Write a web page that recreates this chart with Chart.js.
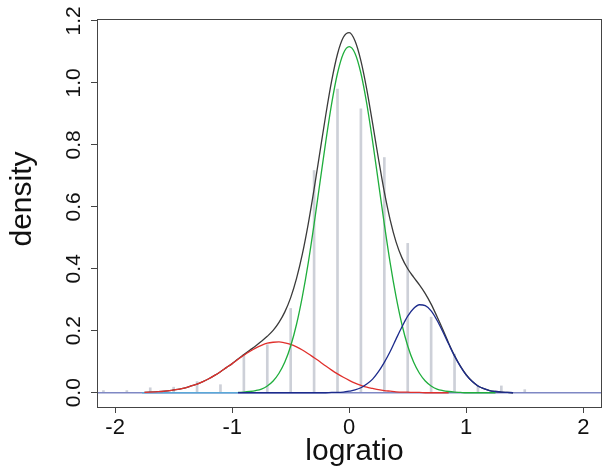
<!DOCTYPE html>
<html>
<head>
<meta charset="utf-8">
<script src="https://cdn.jsdelivr.net/npm/chart.js@4.4.1/dist/chart.umd.min.js"></script>
<style>
  html, body { margin: 0; padding: 0; background: #fff; }
  #wrap { width: 603px; height: 470px; }
</style>
</head>
<body>
<div id="wrap"><canvas id="chart" width="603" height="470"></canvas></div>
<script>
/* =======================
   DATA
======================= */
// grid of logratio values the curves were read at
const xGrid = [-1.80,-1.75,-1.70,-1.65,-1.60,-1.55,-1.50,-1.45,-1.40,-1.35,-1.30,-1.25,-1.20,-1.15,-1.10,-1.05,-1.00,
  -0.95,-0.90,-0.85,-0.80,-0.75,-0.70,-0.65,-0.60,-0.55,-0.50,-0.45,-0.40,-0.35,-0.30,-0.25,-0.20,-0.15,-0.10,-0.05,
  0.00,0.05,0.10,0.15,0.20,0.25,0.30,0.35,0.40,0.45,0.50,0.55,0.60,0.65,0.70,0.75,0.80,0.85,0.90,0.95,
  1.00,1.05,1.10,1.15,1.20,1.25,1.30,1.35,1.40];

// left component (red)
const redCurve = [null,0.001,0.002,0.003,0.004,0.006,0.009,0.012,0.016,0.022,0.028,0.036,0.045,0.056,0.068,0.081,0.094,
  0.108,0.121,0.133,0.144,0.153,0.160,0.163,0.164,0.161,0.156,0.148,0.138,0.126,0.113,0.100,0.086,0.073,0.061,0.050,
  0.040,0.031,0.024,0.018,0.014,0.010,0.007,0.005,0.003,0.002,0.002,0.001,0.001,0,0,0,0,0,null,null,
  null,null,null,null,null,null,null,null,null];

// middle component (green)
const greenCurve = [null,null,null,null,null,null,null,null,null,null,null,null,null,null,null,null,null,
  0.001,0.002,0.004,0.007,0.012,0.022,0.038,0.063,0.099,0.151,0.221,0.311,0.419,0.544,0.678,0.811,0.933,1.031,1.095,
  1.117,1.095,1.031,0.933,0.811,0.678,0.544,0.419,0.311,0.221,0.151,0.099,0.063,0.038,0.022,0.012,0.007,0.004,0.002,0.001,
  0,0,0,0,0,0,null,null,null];

// right component (blue)
const blueCurve = [null,null,null,null,null,null,null,null,null,null,null,null,null,null,null,null,null,
  0,0,0,0,0,0,0,0,0,0,0,0,0,0,0,0,0.001,0.001,0.002,
  0.005,0.009,0.016,0.028,0.044,0.068,0.098,0.133,0.173,0.212,0.247,0.272,0.284,0.281,0.264,0.234,0.197,0.157,0.118,0.085,
  0.057,0.037,0.022,0.013,0.007,0.004,0.002,0.001,0];

// overall density (black)
const totalCurve = [null,0.001,0.002,0.003,0.004,0.006,0.009,0.012,0.016,0.022,0.028,0.036,0.045,0.056,0.068,0.081,0.094,
  0.109,0.123,0.137,0.151,0.166,0.182,0.201,0.227,0.261,0.307,0.369,0.448,0.545,0.657,0.777,0.897,1.006,1.093,1.147,
  1.162,1.135,1.071,0.979,0.869,0.755,0.648,0.558,0.487,0.436,0.400,0.373,0.348,0.320,0.286,0.246,0.204,0.160,0.120,0.086,
  0.058,0.037,0.022,0.013,0.007,0.004,0.002,0.001,0];

// histogram spikes
const spikeX = [-2.1,-1.9,-1.7,-1.5,-1.3,-1.1,-0.9,-0.7,-0.5,-0.3,-0.1,0.1,0.3,0.5,0.7,0.9,1.1,1.3,1.5];
const spikeH = [0.007,0.007,0.016,0.018,0.036,0.026,0.120,0.155,0.272,0.717,0.980,0.916,0.759,0.482,0.244,0.125,0.023,0.022,0.010];

// zero lines
const baseX = [-2.155, 2.16];
const baseY = [0, 0];
const lightX = [-1.77, -0.95];
const lightY = [0, 0];

// axes
const xTicks = [-2, -1, 0, 1, 2];
const yTicks = [0, 0.2, 0.4, 0.6, 0.8, 1.0, 1.2];
const xRange = [-2.155, 2.16];
const yRange = [-0.046, 1.206];

const FONT = "'Liberation Sans', Arial, Helvetica, sans-serif";

function pts(xs, ys){
  return xs.map((x, i) => ({x: x, y: ys[i]}));
}

function curve(label, ys, color, order){
  return {
    type: 'line', label, data: pts(xGrid, ys),
    borderColor: color, borderWidth: 1.3, pointRadius: 0,
    cubicInterpolationMode: 'monotone', spanGaps: false, order
  };
}

// box round the plot + axis titles
const framePlugin = {
  id: 'frame',
  afterDraw(chart){
    const {ctx, chartArea: a} = chart;
    ctx.save();
    ctx.strokeStyle = '#444';
    ctx.lineWidth = 1;
    ctx.strokeRect(a.left + 0.5, a.top + 0.5, a.right - a.left - 1, a.bottom - a.top);
    ctx.fillStyle = '#111';
    ctx.font = "30px " + FONT;
    ctx.textAlign = 'center';
    ctx.textBaseline = 'middle';
    ctx.fillText('logratio', (a.left + a.right) / 2 + 5, 452);
    ctx.translate(23, 199);
    ctx.rotate(-Math.PI / 2);
    ctx.fillText('density', 0, 0);
    ctx.restore();
  }
};

new Chart(document.getElementById('chart'), {
  type: 'line',
  data: {
    datasets: [
      curve('right', blueCurve, '#1c2b8c', 0),
      curve('middle', greenCurve, '#1fae3c', 1),
      curve('left', redCurve, '#e0302c', 2),
      {type: 'line', label: 'zero2', data: pts(lightX, lightY), borderColor: '#5aa8d8', borderWidth: 1.5, pointRadius: 0, order: 3},
      curve('total', totalCurve, '#3a3a3a', 4),
      {type: 'line', label: 'zero', data: pts(baseX, baseY), borderColor: '#7f88c4', borderWidth: 1.5, pointRadius: 0, order: 5},
      {type: 'bar', label: 'hist', data: pts(spikeX, spikeH), backgroundColor: '#cdd0d8',
       barThickness: 2, grouped: false, order: 6}
    ]
  },
  options: {
    responsive: false,
    animation: false,
    layout: { padding: { top: 19, right: 1, left: 0, bottom: 0 } },
    plugins: { legend: { display: false }, tooltip: { enabled: false } },
    scales: {
      x: {
        type: 'linear', min: xRange[0], max: xRange[1], offset: false,
        afterBuildTicks: s => { s.ticks = xTicks.map(v => ({value: v})); },
        afterFit: s => { s.height = 63; },
        border: { display: false },
        grid: { display: true, drawOnChartArea: false, drawTicks: true, tickLength: 6, color: '#444', offset: false },
        ticks: { color: '#111', padding: 2, font: { family: FONT, size: 22 }, maxRotation: 0,
                 callback: v => String(v) }
      },
      y: {
        type: 'linear', min: yRange[0], max: yRange[1],
        afterBuildTicks: s => { s.ticks = yTicks.map(v => ({value: v})); },
        afterFit: s => { s.width = 97; },
        border: { display: false },
        grid: { display: true, drawOnChartArea: false, drawTicks: true, tickLength: 6, color: '#444' },
        ticks: { color: '#111', padding: 2, crossAlign: 'center', minRotation: 90, maxRotation: 90,
                 font: { family: FONT, size: 21 }, callback: v => v.toFixed(1) }
      }
    }
  },
  plugins: [framePlugin]
});
</script>
</body>
</html>
